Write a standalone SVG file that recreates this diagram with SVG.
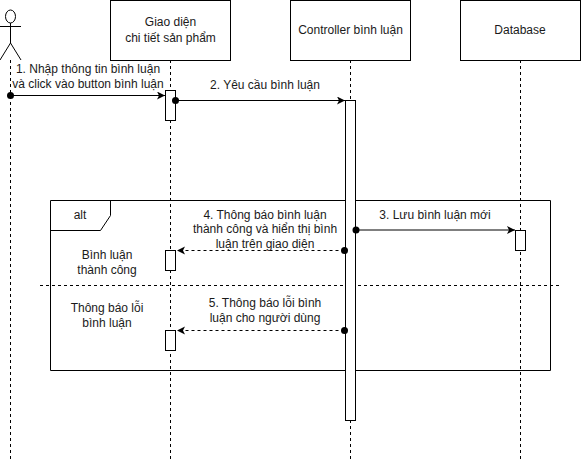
<svg xmlns="http://www.w3.org/2000/svg" width="581" height="462" viewBox="0 0 581 462">
<style>
text{font-family:"Liberation Sans",Arial,sans-serif;font-size:12px;fill:#1a1a1a;text-anchor:middle}
.b{fill:#fff;stroke:#000;stroke-width:1}
.n{fill:none;stroke:#000;stroke-width:1}
.l{fill:none;stroke:#000;stroke-width:1;stroke-dasharray:3 3}
.m{fill:none;stroke:#000;stroke-width:1}
.d{fill:none;stroke:#000;stroke-width:1;stroke-dasharray:3 3}
</style>
<defs>
<marker id="a" markerUnits="userSpaceOnUse" markerWidth="10" markerHeight="10" refX="8" refY="4" orient="auto"><path d="M0 0L8 4L0 8L2 4Z" fill="#000"/></marker>
</defs>
<rect width="581" height="462" fill="#fff"/>
<g id="lifelines">
<path class="l" d="M10.500 60V460"/>
<path class="l" d="M170.500 60V460"/>
<path class="l" d="M350.500 60V460"/>
<path class="l" d="M520.500 60V460"/>
</g>
<g id="frame-alt">
<path class="n" d="M50.500 200.500H550.500V370.500H50.500Z"/>
<path class="n" d="M50.500 230.500H100.500L110.500 215.500V200.500"/>
<text x="80" y="219">alt</text>
<path class="l" d="M40 285.500H561"/>
<text x="107" y="259">Bình luận</text>
<text x="107" y="274">thành công</text>
<text x="107" y="312">Thông báo lỗi</text>
<text x="107" y="327">bình luận</text>
</g>
<g id="actor">
<ellipse class="n" cx="10.500" cy="16.500" rx="5" ry="6.500"/>
<path class="n" d="M10.500 23V43M0 26.500H21M10.500 43L0 60M10.500 43L21 60"/>
</g>
<g id="giao-dien">
<rect class="b" x="110.500" y="0.500" width="120" height="60"/>
<text x="170.500" y="26">Giao diện</text>
<text x="170.500" y="42">chi tiết sản phẩm</text>
</g>
<g id="controller">
<rect class="b" x="290.500" y="0.500" width="120" height="60"/>
<text x="350.500" y="34">Controller bình luận</text>
</g>
<g id="database">
<rect class="b" x="460.500" y="0.500" width="120" height="60"/>
<text x="520" y="34">Database</text>
</g>
<g id="activations">
<rect class="b" x="165.500" y="90.500" width="10" height="30"/>
<rect class="b" x="345.500" y="100.500" width="10" height="320"/>
<rect class="b" x="515.500" y="230.500" width="10" height="20"/>
<rect class="b" x="165.500" y="250.500" width="10" height="20"/>
<rect class="b" x="165.500" y="330.500" width="10" height="20"/>
</g>
<g id="connectors">
<circle cx="10.500" cy="95.500" r="3.500"/>
<path class="m" d="M10.500 95.500H165" marker-end="url(#a)"/>
<circle cx="175.500" cy="100.500" r="3.500"/>
<path class="m" d="M175.500 100.500H345" marker-end="url(#a)"/>
<circle cx="356" cy="230" r="3.500"/>
<path class="m" d="M356 230H515" marker-end="url(#a)"/>
<circle cx="344.500" cy="250.500" r="3.500"/>
<path class="d" d="M344.500 250.500H177" marker-end="url(#a)"/>
<circle cx="344.500" cy="330.500" r="3.500"/>
<path class="d" d="M344.500 330.500H177" marker-end="url(#a)"/>
</g>
<g id="labels">
<text x="88" y="73">1. Nhập thông tin bình luận</text>
<text x="88" y="88">và click vào button bình luận</text>
<text x="265" y="89">2. Yêu cầu bình luận</text>
<text x="435" y="219">3. Lưu bình luận mới</text>
<text x="265" y="219">4. Thông báo bình luận</text>
<text x="265" y="233">thành công và hiển thị bình</text>
<text x="265" y="248">luận trên giao diện</text>
<text x="265" y="307">5. Thông báo lỗi bình</text>
<text x="265" y="322">luận cho người dùng</text>
</g>
</svg>
